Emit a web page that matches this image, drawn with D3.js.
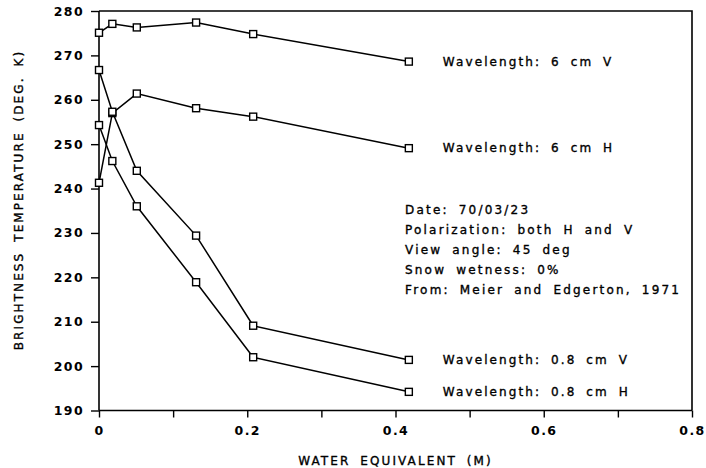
<!DOCTYPE html>
<html>
<head>
<meta charset="utf-8">
<script src="https://cdn.jsdelivr.net/npm/d3@7"></script>
<style>
  body { margin: 0; background: #fff; }
  svg text { font-family: "DejaVu Sans", sans-serif; fill: #000; }
</style>
</head>
<body>
<div id="chart"></div>
<script>
// water equivalent (m) shared by all four curves
const waterEq = [0, 0.018, 0.051, 0.131, 0.208, 0.418];

// brightness temperature (K)
const tb6V  = [275.1, 277.1, 276.3, 277.4, 274.8, 268.6];
const tb6H  = [241.3, 257.0, 261.4, 258.1, 256.2, 249.1];
const tb08V = [266.7, 257.3, 244.0, 229.4, 209.1, 201.4];
const tb08H = [254.3, 246.2, 236.0, 218.9, 202.0, 194.2];

const seriesLabels = [
  'Wavelength: 6 cm V',
  'Wavelength: 6 cm H',
  'Wavelength: 0.8 cm V',
  'Wavelength: 0.8 cm H'
];

const notes = [
  'Date: 70/03/23',
  'Polarization: both H and V',
  'View angle: 45 deg',
  'Snow wetness: 0%',
  'From: Meier and Edgerton, 1971'
];

const yTicks = [190, 200, 210, 220, 230, 240, 250, 260, 270, 280];
const xTicks = [0, 0.1, 0.2, 0.3, 0.4, 0.5, 0.6, 0.7, 0.8];
const xTickLabels = ['0', '', '0.2', '', '0.4', '', '0.6', '', '0.8'];

const xTitle = 'WATER EQUIVALENT (M)';
const yTitle = 'BRIGHTNESS TEMPERATURE (DEG. K)';

const width = 706, height = 468;
const plotLeft = 99, plotRight = 692, plotTop = 11, plotBottom = 410.5;

const svg = d3.select('#chart')
    .append('svg')
    .attr('width', width)
    .attr('height', height);

const x = d3.scaleLinear().domain([0, 0.8]).range([plotLeft, plotRight]);
const y = d3.scaleLinear().domain([190, 280]).range([plotBottom, plotTop]);

// axes
const yAxis = svg.append('g')
    .attr('transform', `translate(${plotLeft},0)`)
    .call(d3.axisLeft(y).tickValues(yTicks).tickSize(8).tickPadding(7).tickFormat(d3.format('d')));

const xAxis = svg.append('g')
    .attr('transform', `translate(0,${plotBottom})`)
    .call(d3.axisBottom(x).tickValues(xTicks).tickSize(7).tickPadding(9)
      .tickFormat((d, i) => xTickLabels[i]));

[xAxis, yAxis].forEach(g => {
  g.select('.domain').attr('stroke', '#000').attr('stroke-width', 1.6);
  g.selectAll('.tick line').attr('stroke', '#000').attr('stroke-width', 1.4);
  g.selectAll('.tick text')
      .style('font-size', '12.5px')
      .style('font-weight', 'bold')
      .style('letter-spacing', '1.4px')
      .attr('fill', '#000');
});
xAxis.select('.domain').attr('d', `M${plotLeft},0H${plotRight}`);
yAxis.select('.domain').attr('d', `M0,${plotBottom}V${plotTop}`);

// frame: top and right
svg.append('path')
    .attr('d', `M${x(0)},${y(280)}H${x(0.8)}V${y(190)}`)
    .attr('fill', 'none')
    .attr('stroke', '#000')
    .attr('stroke-width', 1.6);

// curves
const allSeries = [tb6V, tb6H, tb08V, tb08H];
const line = d3.line()
    .x((d, i) => x(waterEq[i]))
    .y(d => y(d));

allSeries.forEach(s => {
  svg.append('path')
      .datum(s)
      .attr('d', line)
      .attr('fill', 'none')
      .attr('stroke', '#000')
      .attr('stroke-width', 1.5);
});

// plotter-style text: a thin stroke makes it a bit heavier
function plotterText(sel, spacing) {
  sel.style('font-size', '12px')
     .style('letter-spacing', spacing + 'px')
     .style('word-spacing', '4px')
     .attr('stroke', '#000')
     .attr('stroke-width', 0.35);
}

allSeries.forEach((s, k) => {
  svg.selectAll('.m' + k)
      .data(s)
      .enter()
      .append('rect')
      .attr('class', 'm' + k)
      .attr('x', (d, i) => x(waterEq[i]) - 3.5)
      .attr('y', d => y(d) - 3.5)
      .attr('width', 7)
      .attr('height', 7)
      .attr('fill', '#fff')
      .attr('stroke', '#000')
      .attr('stroke-width', 1.4);

  // label to the right of the last point
  const last = s.length - 1;
  svg.append('text')
      .attr('x', x(waterEq[last]) + 34)
      .attr('y', y(s[last]))
      .attr('dy', '0.36em')
      .call(plotterText, 2.1)
      .text(seriesLabels[k]);
});

// notes block
svg.selectAll('.note')
    .data(notes)
    .enter()
    .append('text')
    .attr('class', 'note')
    .attr('x', 405)
    .attr('y', (d, i) => 213.5 + i * 20)
    .call(plotterText, 2.2)
    .text(d => d);

// axis titles
svg.append('text')
    .attr('x', (plotLeft + plotRight) / 2)
    .attr('y', 465)
    .attr('text-anchor', 'middle')
    .call(plotterText, 2.1)
    .text(xTitle);

svg.append('text')
    .attr('transform', 'translate(23,200) rotate(-90)')
    .attr('text-anchor', 'middle')
    .call(plotterText, 2.1)
    .text(yTitle);
</script>
</body>
</html>
